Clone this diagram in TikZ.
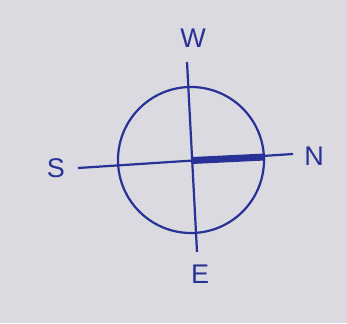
\documentclass[tikz,border=0pt]{standalone}
\usepackage{fontspec}
\setmainfont{Liberation Sans}
\usetikzlibrary{arrows}
\definecolor{inkblue}{RGB}{40,50,150}
\definecolor{paper}{RGB}{218,218,224}

\begin{document}
\begin{tikzpicture}[x=1pt,y=-1pt]
\fill[paper] (0,0) rectangle (347,323);
\useasboundingbox (0,0) rectangle (347,323);

\coordinate (O) at (192,160.5);
\coordinate (Wend) at (187,62);
\coordinate (Eend) at (197,252);
\coordinate (Send) at (78,168);
\coordinate (Nend) at (293,154);
\coordinate (Nrim) at (265,157);

\node[inkblue,font=\fontsize{27}{30}\selectfont] (W) at (193,38) {W};
\node[inkblue,font=\fontsize{27}{30}\selectfont] (E) at (200,274) {E};
\node[inkblue,font=\fontsize{27}{30}\selectfont] (S) at (56,168) {S};
\node[inkblue,font=\fontsize{27}{30}\selectfont] (N) at (314,156) {N};

\draw[inkblue,line width=2.2pt] (191,160) circle (73);

\path[inkblue,line width=2.2pt] (Wend) edge [] node[]{} (Eend);
\path[inkblue,line width=2.2pt] (Send) edge [] node[]{} (Nend);
\path[inkblue,line width=7pt] (O) edge [] node[]{} (Nrim);
\end{tikzpicture}
\end{document}
